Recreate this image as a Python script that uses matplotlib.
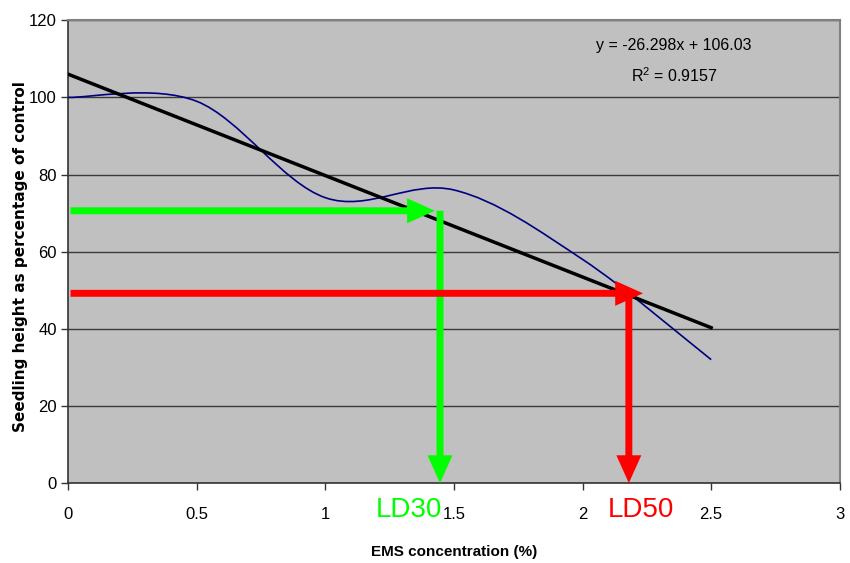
import numpy as np
import matplotlib.pyplot as plt
from matplotlib.path import Path
from matplotlib.patches import PathPatch

# EMS dose response
ems = [0, 0.5, 1.0, 1.5, 2.0, 2.5]
height = [100, 99, 74, 76, 58, 32]
slope, intercept = -26.298, 106.03
r2 = 0.9157
ld30 = [1.446, 70.6]
ld50 = [2.18, 49.2]

sans = ['Liberation Sans', 'DejaVu Sans']

fig = plt.figure(figsize=(8.5, 5.63), dpi=100)
ax = fig.add_axes([0.08, 0.142, 0.908, 0.822])
ax.set_facecolor('#c0c0c0')
ax.set_xlim(0, 3)
ax.set_ylim(0, 120)
ax.set_xticks(np.arange(0, 3.01, 0.5))
ax.set_xticklabels(['0', '0.5', '1', '1.5', '2', '2.5', '3'])
ax.set_yticks(range(0, 121, 20))
for lab in ax.get_xticklabels() + ax.get_yticklabels():
    lab.set_family(sans)
    lab.set_fontsize(12)
ax.tick_params(direction='out', length=5, width=1, colors='#333333', labelcolor='black')
ax.tick_params(axis='x', pad=12)
ax.tick_params(axis='y', pad=3)
ax.grid(axis='y', color='#3a3a3a', lw=1)
ax.set_axisbelow(True)
for s in ['left', 'bottom']:
    ax.spines[s].set_color('#333333')
    ax.spines[s].set_linewidth(1.2)
for s in ['top', 'right']:
    ax.spines[s].set_color('#808080')
    ax.spines[s].set_linewidth(1.5)

# smoothed line like excel (bezier through the points)
x = np.array(ems, dtype=float)
y = np.array(height, dtype=float)
pts = np.column_stack([x, y])
verts = [tuple(pts[0])]
codes = [Path.MOVETO]
n = len(pts)
for i in range(n - 1):
    p0 = pts[max(i - 1, 0)]
    p1 = pts[i]
    p2 = pts[i + 1]
    p3 = pts[min(i + 2, n - 1)]
    c1 = p1 + (p2 - p0) / 6
    c2 = p2 - (p3 - p1) / 6
    verts += [tuple(c1), tuple(c2), tuple(p2)]
    codes += [Path.CURVE4] * 3
ax.add_patch(PathPatch(Path(verts, codes), fill=False, edgecolor='#000080', lw=1.2, zorder=3))

# trend line
xt = np.array([0, 2.5])
ax.plot(xt, slope * xt + intercept, color='black', lw=2.5, zorder=4)

ax.text(2.355, 113.5, 'y = -26.298x + 106.03', ha='center', va='center', fontsize=11.5, family=sans)
ax.text(2.355, 105.7, '$\\mathregular{R^2}$ = 0.9157', ha='center', va='center', fontsize=11.5, family=sans)

def arrow(x0, y0, x1, y1, color):
    ax.annotate('', xy=(x1, y1), xytext=(x0, y0),
                arrowprops=dict(arrowstyle='simple,head_length=2.0,head_width=1.8,tail_width=0.5',
                                mutation_scale=10, color=color, shrinkA=0, shrinkB=0, lw=0),
                zorder=5, annotation_clip=False)

arrow(0.01, ld30[1], ld30[0] - 0.02, ld30[1], '#00ff00')
arrow(ld30[0], ld30[1], ld30[0], 0, '#00ff00')
arrow(0.01, ld50[1], ld50[0] + 0.055, ld50[1], '#ff0000')
arrow(ld50[0], ld50[1], ld50[0], 0, '#ff0000')

ax.text(1.325, -7, 'LD30', color='#00ff00', ha='center', va='center', fontsize=20, family=sans, clip_on=False)
ax.text(2.228, -7, 'LD50', color='#ff0000', ha='center', va='center', fontsize=20, family=sans, clip_on=False)

ax.set_xlabel('EMS concentration (%)', fontsize=11, fontweight='bold', family=sans)
ax.xaxis.set_label_coords(0.5, -0.133)
ax.set_ylabel('Seedling height as percentage of control', fontsize=11, fontweight='bold', family='DejaVu Sans')
ax.yaxis.set_label_coords(-0.052, 0.49)

fig.savefig('out.png', dpi=100)
